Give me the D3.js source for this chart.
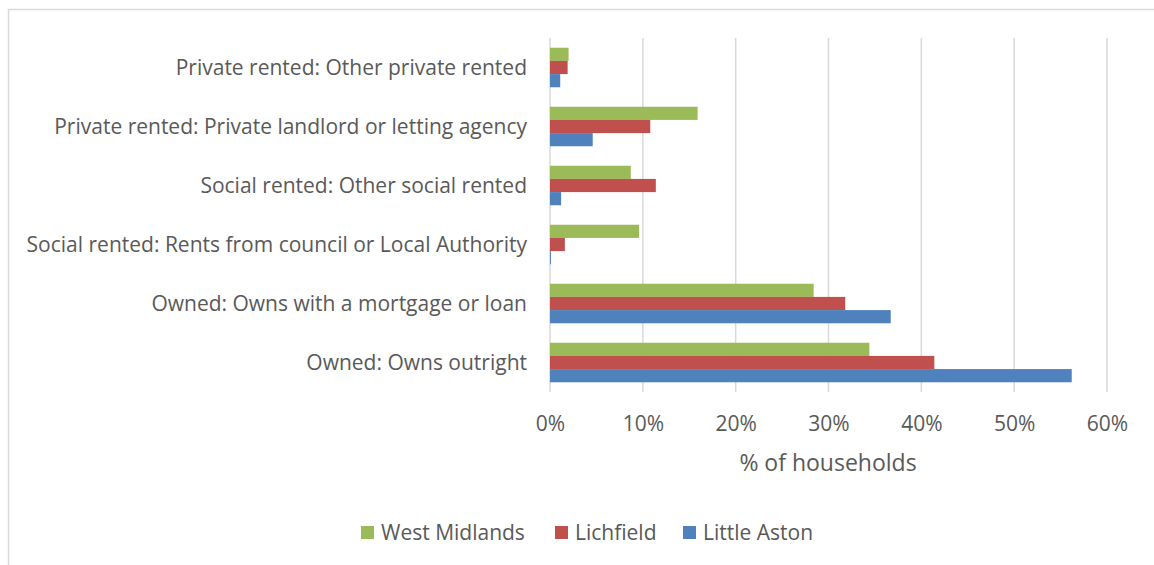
<!DOCTYPE html>
<html>
<head>
<meta charset="utf-8">
<script src="https://cdn.jsdelivr.net/npm/d3@7"></script>
<style>
  html, body { margin: 0; padding: 0; background: #fff; }
  svg { display: block; }
  text { font-family: "Open Sans", Lato, sans-serif; fill: #595959; }
</style>
</head>
<body>
<svg id="chart" width="1154" height="565"></svg>
<script>
const categories = [
  "Private rented: Other private rented",
  "Private rented: Private landlord or letting agency",
  "Social rented: Other social rented",
  "Social rented: Rents from council or Local Authority",
  "Owned: Owns with a mortgage or loan",
  "Owned: Owns outright"
];
const seriesNames = ["West Midlands", "Lichfield", "Little Aston"];
const westMidlands = [2.0, 15.9, 8.7, 9.6, 28.4, 34.4];
const lichfield    = [1.9, 10.8, 11.4, 1.6, 31.8, 41.4];
const littleAston  = [1.1, 4.6, 1.2, 0.1, 36.7, 56.2];
const xTicks = [0, 10, 20, 30, 40, 50, 60];
const colors = ["#9BBB59", "#C0504D", "#4F81BD"];
const axisTitle = "% of households";

const seriesValues = [westMidlands, lichfield, littleAston];
const FONT = "'Open Sans', Lato, sans-serif";
const FS = "21px";

const svg = d3.select("#chart");

// outer frame
svg.append("rect")
  .attr("x", 8.5).attr("y", 9.5)
  .attr("width", 1160).attr("height", 570)
  .attr("fill", "none").attr("stroke", "#d9d9d9").attr("stroke-width", 1.5);

const plot = { left: 550, right: 1107, top: 38, bottom: 392 };

const x = d3.scaleLinear().domain([0, 60]).range([plot.left, plot.right]);
const y = d3.scaleBand().domain(categories).range([plot.top, plot.bottom]).paddingInner(0.33).paddingOuter(0.165);
const ySub = d3.scaleBand().domain(seriesNames).range([0, y.bandwidth()]);

// gridlines
svg.append("g").selectAll("line").data(xTicks).join("line")
  .attr("x1", d => x(d)).attr("x2", d => x(d))
  .attr("y1", plot.top).attr("y2", plot.bottom)
  .attr("stroke", "#d9d9d9").attr("stroke-width", 1.5);

// bars
const groups = svg.append("g").selectAll("g").data(seriesNames).join("g")
  .attr("fill", (d, i) => colors[i]);
groups.each(function(name, si) {
  d3.select(this).selectAll("rect").data(categories).join("rect")
    .attr("x", x(0))
    .attr("y", c => y(c) + ySub(name))
    .attr("width", (c, ci) => x(seriesValues[si][ci]) - x(0))
    .attr("height", ySub.bandwidth());
});

// x axis
const xAxis = d3.axisBottom(x).tickValues(xTicks).tickFormat(d => d + "%").tickSize(0).tickPadding(0);
const gx = svg.append("g").attr("transform", `translate(0,${plot.bottom})`).call(xAxis);
gx.select(".domain").remove();
gx.selectAll("text").attr("dy", null).attr("y", 38.5).style("font-size", FS)
  .style("font-family", FONT).attr("fill", "#595959");

// y axis
const yAxis = d3.axisLeft(y).tickSize(0).tickPadding(0);
const gy = svg.append("g").attr("transform", `translate(527,0)`).call(yAxis);
gy.select(".domain").remove();
gy.selectAll("text").attr("dy", "0.35em").style("font-size", FS)
  .style("font-family", FONT).attr("fill", "#595959");

// axis title
svg.append("text").attr("x", 828).attr("y", 470.5).attr("text-anchor", "middle")
  .style("font-size", "23px").text(axisTitle);

// legend
const legendX = [361, 555, 683];
const leg = svg.append("g").selectAll("g").data(seriesNames).join("g")
  .attr("transform", (d, i) => `translate(${legendX[i]},526)`);
leg.append("rect").attr("width", 13).attr("height", 13).attr("fill", (d, i) => colors[i]);
leg.append("text").attr("x", 20).attr("y", 6.5).attr("dy", "0.35em")
  .style("font-size", FS).text(d => d);
</script>
</body>
</html>
